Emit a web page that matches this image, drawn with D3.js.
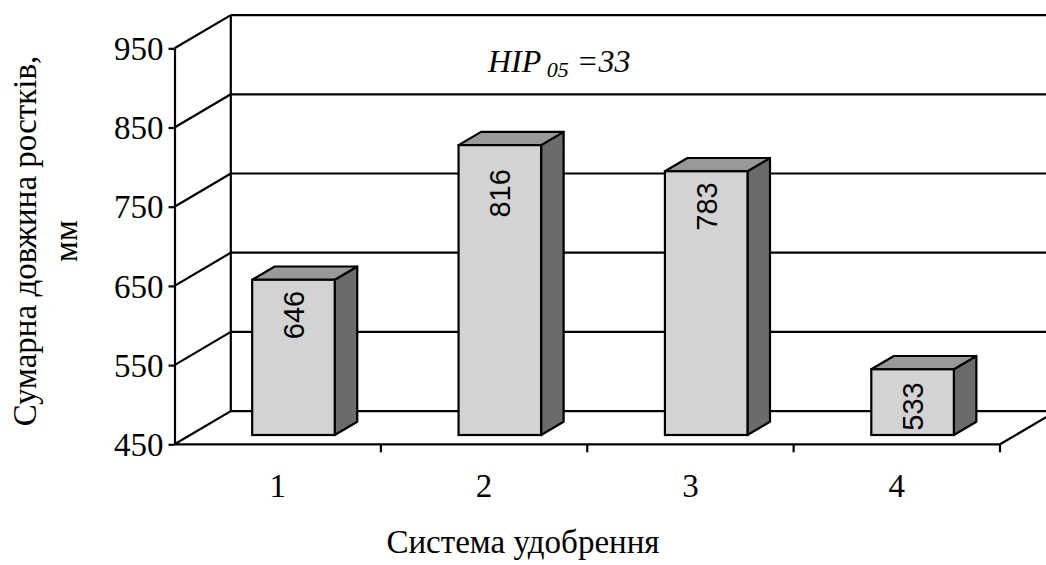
<!DOCTYPE html>
<html>
<head>
<meta charset="utf-8">
<script src="https://cdn.jsdelivr.net/npm/d3@7/dist/d3.min.js"></script>
<style>
  html, body { margin: 0; padding: 0; background: #fff; }
  svg { display: block; }
</style>
</head>
<body>
<svg id="chart" width="1046" height="565"></svg>
<script>
// ---- data ----
const categories = ["1", "2", "3", "4"];
const values = [646, 816, 783, 533];
const yTicks = [450, 550, 650, 750, 850, 950];
const xTitle = "Система удобрення";
const yTitleLines = ["Сумарна довжина ростків,", "мм"];
const lsdLabel = { main: "HIP", sub: "05", rest: "=33" };

// ---- layout ----
const W = 1046, H = 565;
const svg = d3.select("#chart");
const X0 = 174.5, X1 = 1000;          // front floor edge
const DX = 56.3, DY = 33.2;           // 3D depth offset
const F0 = 0.28, FD = 0.40;           // bar front depth fraction, bar depth fraction
const serif = "'Liberation Serif', 'Times New Roman', serif";
const sans = "'Liberation Sans', Arial, sans-serif";

const x = d3.scaleBand().domain(categories).range([X0, X1])
  .paddingInner(0.6).paddingOuter(0.3);
const y = d3.scaleLinear().domain([450, 950]).range([444.3, 48.3]);

const defs = svg.append("defs");
defs.append("clipPath").attr("id", "clip").append("rect")
  .attr("x", 0).attr("y", 0).attr("width", W).attr("height", H);

const g = svg.append("g").attr("clip-path", "url(#clip)");
const stroke = "#000", sw = 2.2;

// back wall gridlines and side diagonals
yTicks.forEach(v => {
  const yy = y(v);
  g.append("line").attr("x1", X0).attr("y1", yy).attr("x2", X0 + DX).attr("y2", yy - DY)
    .attr("stroke", stroke).attr("stroke-width", sw);
  g.append("line").attr("x1", X0 + DX).attr("y1", yy - DY).attr("x2", X1 + DX + 20).attr("y2", yy - DY)
    .attr("stroke", stroke).attr("stroke-width", sw);
});
// back wall left vertical
g.append("line").attr("x1", X0 + DX).attr("y1", y(450) - DY).attr("x2", X0 + DX).attr("y2", y(950) - DY)
  .attr("stroke", stroke).attr("stroke-width", sw);
// floor right diagonal
g.append("line").attr("x1", X1).attr("y1", y(450)).attr("x2", X1 + DX).attr("y2", y(450) - DY)
  .attr("stroke", stroke).attr("stroke-width", sw);

// ---- bars ----
const labelNudge = [0, 13, 0, 2];
const bw = x.bandwidth();
const bdx = FD * DX, bdy = FD * DY;
const bars = g.selectAll("g.bar").data(values).join("g").attr("class", "bar");
bars.each(function (v, i) {
  const sel = d3.select(this);
  const xl = x(categories[i]) + F0 * DX;
  const xr = xl + bw;
  const yt = y(v) - F0 * DY;
  const yb = y(450) - F0 * DY;
  // side
  sel.append("polygon")
    .attr("points", [[xr, yt], [xr + bdx, yt - bdy], [xr + bdx, yb - bdy], [xr, yb]].map(p => p.join(",")).join(" "))
    .attr("fill", "#6b6b6b").attr("stroke", stroke).attr("stroke-width", sw).attr("stroke-linejoin", "round");
  // top
  sel.append("polygon")
    .attr("points", [[xl, yt], [xr, yt], [xr + bdx, yt - bdy], [xl + bdx, yt - bdy]].map(p => p.join(",")).join(" "))
    .attr("fill", "#999999").attr("stroke", stroke).attr("stroke-width", sw).attr("stroke-linejoin", "round");
  // front
  sel.append("rect").attr("x", xl).attr("y", yt).attr("width", bw).attr("height", yb - yt)
    .attr("fill", "#d3d3d3").attr("stroke", stroke).attr("stroke-width", sw);
  // label
  const cx = (xl + xr) / 2, ty = yt + 11 + labelNudge[i];
  sel.append("text")
    .attr("transform", `translate(${cx},${ty}) rotate(-90)`)
    .attr("text-anchor", "end").attr("dy", "0.36em")
    .attr("font-family", sans).attr("font-size", 29).attr("fill", "#000")
    .text(v);
});

// ---- front axes ----
// floor front line
svg.append("line").attr("x1", X0).attr("y1", y(450)).attr("x2", X1).attr("y2", y(450))
  .attr("stroke", stroke).attr("stroke-width", sw);

const yAxis = svg.append("g").attr("transform", `translate(${X0},0)`)
  .call(d3.axisLeft(y).tickValues(yTicks).tickSize(6).tickSizeOuter(0).tickPadding(5));
yAxis.select(".domain").attr("stroke", stroke).attr("stroke-width", sw);
yAxis.selectAll(".tick line").attr("stroke", stroke).attr("stroke-width", sw);
yAxis.selectAll(".tick text").attr("font-family", serif).attr("font-size", 33).attr("fill", "#000")
  .attr("dy", "0.34em");

const xAxis = svg.append("g").attr("transform", `translate(0,${y(450)})`)
  .call(d3.axisBottom(x).tickSize(0).tickPadding(29));
xAxis.select(".domain").remove();
xAxis.selectAll(".tick text").attr("font-family", serif).attr("font-size", 33).attr("fill", "#000");
// boundary tick marks
const step = x.step();
d3.range(1, categories.length + 1).forEach(k => {
  const xx = X0 + k * step;
  svg.append("line").attr("x1", xx).attr("y1", y(450)).attr("x2", xx).attr("y2", y(450) + 8)
    .attr("stroke", stroke).attr("stroke-width", sw);
});

// ---- titles ----
svg.append("text").attr("x", 523).attr("y", 553).attr("text-anchor", "middle")
  .attr("font-family", serif).attr("font-size", 33).attr("fill", "#000").text(xTitle);

const yt = svg.append("text").attr("transform", "translate(0,241) rotate(-90)")
  .attr("text-anchor", "middle").attr("font-family", serif).attr("font-size", 33).attr("fill", "#000");
yt.append("tspan").attr("x", 0).attr("y", 36).text(yTitleLines[0]);
yt.append("tspan").attr("x", 0).attr("y", 77).text(yTitleLines[1]);

// LSD annotation
const ht = svg.append("text").attr("x", 488).attr("y", 72)
  .attr("font-family", serif).attr("font-style", "italic").attr("font-size", 32).attr("fill", "#000");
ht.append("tspan").text(lsdLabel.main);
ht.append("tspan").attr("font-size", 22).attr("dy", 5).text("\u00a0" + lsdLabel.sub);
ht.append("tspan").attr("dy", -5).text("\u00a0" + lsdLabel.rest);
</script>
</body>
</html>
